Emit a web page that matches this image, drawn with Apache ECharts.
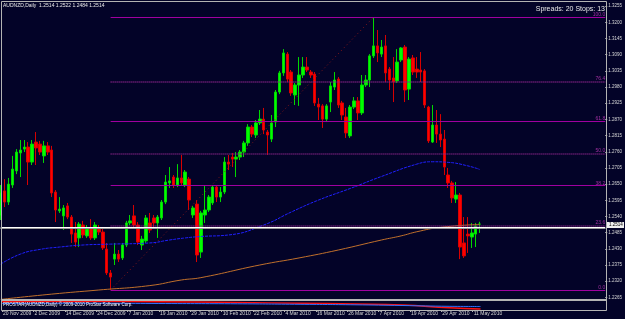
<!DOCTYPE html>
<html>
<head>
<meta charset="utf-8">
<script src="https://cdn.jsdelivr.net/npm/echarts@6/dist/echarts.min.js"></script>
<style>
html,body{margin:0;padding:0;background:#030328;}
#chart{width:625px;height:319px;}
</style>
</head>
<body>
<div id="chart"></div>
<script>
// AUDNZD daily, 20 Nov 2009 - 13 May 2010
var dateTicks = ['20 Nov 2009','2 Dec 2009','14 Dec 2009','24 Dec 2009','7 Jan 2010','19 Jan 2010',
    '29 Jan 2010','10 Feb 2010','22 Feb 2010','4 Mar 2010','16 Mar 2010','26 Mar 2010',
    '7 Apr 2010','19 Apr 2010','29 Apr 2010','11 May 2010'];
var priceTicks = [1.3255,1.3200,1.3145,1.3090,1.3035,1.2980,1.2925,1.2870,1.2815,1.2760,
    1.2705,1.2650,1.2595,1.2540,1.2485,1.2430,1.2375,1.2320,1.2265];

var open = [1.2542,1.2627,1.2589,1.2647,1.2695,1.2756,1.2769,1.2776,1.2725,1.2793,
    1.2786,1.2746,1.2780,1.2766,1.2623,1.2559,1.2542,1.2576,1.2538,1.2484,
    1.2467,1.2511,1.2474,1.2501,1.2467,1.2501,1.2487,1.2429,1.2348,1.2395,
    1.2412,1.2399,1.2443,1.2518,1.2542,1.2511,1.2443,1.2457,1.2518,1.2535,
    1.2518,1.2535,1.2589,1.2654,1.2674,1.2647,1.2671,1.2647,1.2667,1.2545,
    1.2582,1.2419,1.2545,1.2562,1.2586,1.2640,1.2606,1.2623,1.2725,1.2742,
    1.2735,1.2742,1.2759,1.2790,1.2844,1.2817,1.2858,1.2871,1.2827,1.2803,
    1.2861,1.2963,1.3028,1.3092,1.3031,1.2953,1.2987,1.3021,1.3048,1.3031,
    1.3024,1.2922,1.2916,1.2871,1.2929,1.2980,1.3007,1.2926,1.2878,1.2814,
    1.2912,1.2933,1.2892,1.2987,1.3004,1.3086,1.3120,1.3092,1.3120,1.3041,
    1.3011,1.3001,1.3072,1.3116,1.2973,1.3079,1.3041,1.3038,1.3035,1.2912,
    1.2793,1.2851,1.2820,1.2803,1.2681,1.2654,1.2599,1.2613,1.2450,1.2480,
    1.2470,1.2480,1.2514];
var close = [1.2623,1.2589,1.2650,1.2701,1.2759,1.2766,1.2776,1.2725,1.2786,1.2773,
    1.2759,1.2780,1.2759,1.2620,1.2562,1.2565,1.2569,1.2538,1.2480,1.2453,
    1.2514,1.2477,1.2497,1.2467,1.2511,1.2487,1.2433,1.2348,1.2334,1.2412,
    1.2395,1.2443,1.2518,1.2525,1.2511,1.2453,1.2463,1.2535,1.2494,1.2518,
    1.2538,1.2589,1.2657,1.2661,1.2647,1.2671,1.2654,1.2691,1.2596,1.2569,
    1.2409,1.2552,1.2562,1.2606,1.2640,1.2606,1.2623,1.2725,1.2718,1.2735,
    1.2742,1.2759,1.2790,1.2844,1.2820,1.2858,1.2871,1.2834,1.2817,1.2858,
    1.2963,1.3028,1.3096,1.3007,1.2960,1.2987,1.3021,1.3048,1.3038,1.3021,
    1.2926,1.2912,1.2871,1.2916,1.2984,1.3004,1.2919,1.2885,1.2824,1.2912,
    1.2933,1.2892,1.2987,1.3004,1.3086,1.3120,1.3096,1.3116,1.3028,1.3004,
    1.2997,1.3065,1.3113,1.2970,1.3075,1.3031,1.3031,1.3031,1.2919,1.2797,
    1.2851,1.2820,1.2800,1.2708,1.2654,1.2603,1.2613,1.2436,1.2406,1.2474,
    1.2484,1.2508,1.2514];
var low = [1.2528,1.2572,1.2579,1.2637,1.2684,1.2674,1.2759,1.2647,1.2715,1.2715,
    1.2749,1.2722,1.2749,1.2606,1.2521,1.2552,1.2494,1.2531,1.2450,1.2436,
    1.2436,1.2467,1.2467,1.2460,1.2460,1.2477,1.2426,1.2341,1.2290,1.2375,
    1.2385,1.2392,1.2436,1.2511,1.2504,1.2443,1.2426,1.2450,1.2484,1.2501,
    1.2467,1.2528,1.2582,1.2637,1.2637,1.2640,1.2647,1.2640,1.2562,1.2535,
    1.2385,1.2399,1.2518,1.2555,1.2579,1.2589,1.2589,1.2616,1.2698,1.2708,
    1.2674,1.2732,1.2742,1.2780,1.2810,1.2807,1.2851,1.2820,1.2749,1.2793,
    1.2844,1.2956,1.3018,1.2997,1.2950,1.2919,1.2916,1.3011,1.3031,1.3011,
    1.2916,1.2868,1.2841,1.2861,1.2895,1.2970,1.2909,1.2868,1.2807,1.2807,
    1.2905,1.2868,1.2885,1.2980,1.2980,1.3079,1.3065,1.3082,1.2997,1.2970,
    1.2929,1.2994,1.3065,1.2929,1.2936,1.3021,1.3011,1.2997,1.2909,1.2790,
    1.2790,1.2790,1.2776,1.2681,1.2637,1.2586,1.2586,1.2395,1.2399,1.2416,
    1.2433,1.2436,1.2484];
var high = [1.2647,1.2667,1.2671,1.2746,1.2769,1.2800,1.2800,1.2793,1.2800,1.2827,
    1.2797,1.2797,1.2793,1.2780,1.2630,1.2606,1.2579,1.2586,1.2545,1.2521,
    1.2521,1.2525,1.2511,1.2531,1.2521,1.2511,1.2501,1.2450,1.2358,1.2450,
    1.2426,1.2450,1.2525,1.2545,1.2579,1.2521,1.2474,1.2545,1.2552,1.2545,
    1.2545,1.2596,1.2681,1.2708,1.2681,1.2718,1.2749,1.2698,1.2674,1.2576,
    1.2596,1.2559,1.2644,1.2613,1.2647,1.2647,1.2640,1.2742,1.2749,1.2756,
    1.2759,1.2766,1.2797,1.2854,1.2851,1.2868,1.2902,1.2909,1.2834,1.2885,
    1.2970,1.3035,1.3109,1.3099,1.3038,1.2994,1.3082,1.3082,1.3082,1.3038,
    1.3031,1.2943,1.2922,1.2922,1.2997,1.3031,1.3014,1.2933,1.2909,1.2919,
    1.2946,1.2946,1.3021,1.3021,1.3092,1.3218,1.3174,1.3140,1.3157,1.3048,
    1.3082,1.3109,1.3116,1.3123,1.3082,1.3089,1.3082,1.3099,1.3041,1.2916,
    1.2919,1.2902,1.2888,1.2834,1.2705,1.2661,1.2657,1.2620,1.2538,1.2538,
    1.2518,1.2518,1.2522];

// moving averages, read at a few bars
var maBlueIdx = [0,5,10,15,21,28,38,43,47,51,58,67,74,81,89,97,106,110,114,119,122];
var maBlue = [1.2378,1.2412,1.2428,1.2436,1.2443,1.2446,1.2450,1.2460,1.2467,1.2472,1.2477,
    1.2511,1.2555,1.2596,1.2635,1.2676,1.2718,1.2726,1.2724,1.2712,1.2700];
var maOrangeIdx = [0,13,25,38,46,51,66,76,86,97,102,106,112,122];
var maOrange = [1.2258,1.2276,1.2290,1.2305,1.2324,1.2332,1.2375,1.2399,1.2426,1.2460,
    1.2474,1.2488,1.2503,1.2513];

// oscillator in the lower window
var oscIdx = [0,20,40,60,76,90,102,114,122];
var oscRed = [8.3,8.5,8.2,7.5,6.7,6.0,5.0,2.3,1.0];
var oscBlue = [6.5,6.8,6.5,6.2,5.7,5.2,4.5,3.7,3.5];

// fibonacci from the low (bar 28) to the high (bar 95)
var fibLevels = [0, 23.6, 38.2, 50.0, 61.8, 76.4, 100.0];
var fibLowBar = 28, fibHighBar = 95;
var fibLow = 1.2290, fibHigh = 1.3218;
var hLine = 1.2499;

var totalBars = 155;
var cats = [];
for (var i = 0; i < totalBars; i++) cats.push(String(i));

var candles = [];
for (var i = 0; i < open.length; i++) {
    candles.push([open[i], close[i], low[i], high[i]]);
}
function pairs(idx, vals) {
    var res = [];
    for (var k = 0; k < idx.length; k++) res.push([idx[k], vals[k]]);
    return res;
}

var fibLines = [];
for (var k = 0; k < fibLevels.length; k++) {
    var lv = fibLevels[k];
    var v = fibLow + (fibHigh - fibLow) * lv / 100;
    var dotted = (lv === 23.6 || lv === 50.0 || lv === 76.4);
    fibLines.push([
        {coord: [fibLowBar, v],
         lineStyle: {color: dotted ? '#8a248a' : '#a000a0', width: dotted ? 1.6 : 1.1, type: dotted ? [1, 1] : 'solid'},
         label: {show: true, formatter: lv.toFixed(1), position: 'insideEndTop', color: '#a030a0',
                 fontSize: 5, fontFamily: 'Liberation Sans', distance: 0}},
        {coord: [totalBars - 1, v]}
    ]);
}
fibLines.push([
    {coord: [fibLowBar, fibLow], lineStyle: {color: '#8a1818', width: 1, type: [1, 3]}, label: {show: false}},
    {coord: [fibHighBar, fibHigh]}
]);
fibLines.push({yAxis: hLine, lineStyle: {color: '#ffffff', width: 2, type: 'solid'}, label: {show: false}});
fibLines.push({yAxis: hLine - 0.0008, lineStyle: {color: '#9a9a9a', width: 1, type: 'solid'}, label: {show: false}});

var myChart = echarts.init(document.getElementById('chart'));
var option = {
    backgroundColor: '#030328',
    animation: false,
    grid: [
        {left: 0.7, right: 19, top: 3, bottom: 19},
        {left: 0.7, right: 19, top: 301, height: 9}
    ],
    xAxis: [
        {
            type: 'category', data: cats, boundaryGap: false, gridIndex: 0,
            axisLine: {show: false}, axisTick: {show: false}, axisLabel: {show: false}, splitLine: {show: false}
        },
        {
            type: 'category', data: cats, boundaryGap: false, gridIndex: 1,
            axisLine: {show: false},
            axisTick: {
                show: true, length: 2, lineStyle: {color: '#b4b4b4'},
                interval: function (idx) { return idx % 8 === 0 && idx / 8 < dateTicks.length; }
            },
            axisLabel: {
                show: true, color: '#d8d8d8', fontSize: 5, fontFamily: 'Liberation Sans', margin: 1,
                align: 'left', padding: [0, 0, 0, 1],
                interval: function (idx) { return idx % 8 === 0 && idx / 8 < dateTicks.length; },
                formatter: function (val, idx) { return dateTicks[idx / 8] || ''; }
            },
            splitLine: {show: false}
        }
    ],
    yAxis: [
        {
            type: 'value', gridIndex: 0, position: 'right', min: 1.2256, max: 1.32658, scale: true,
            axisLine: {show: false},
            axisTick: {show: true, length: 2, customValues: priceTicks, lineStyle: {color: '#b4b4b4'}},
            axisLabel: {
                show: true, customValues: priceTicks, color: '#d8d8d8', fontSize: 4.5,
                fontFamily: 'Liberation Sans', margin: 3,
                formatter: function (v) { return v.toFixed(4); }
            },
            splitLine: {show: false}
        },
        {
            type: 'value', gridIndex: 1, position: 'right', min: 0, max: 9,
            axisLine: {show: false}, axisTick: {show: false}, axisLabel: {show: false}, splitLine: {show: false}
        }
    ],
    series: [
        {
            name: 'AUDNZD',
            type: 'candlestick',
            xAxisIndex: 0, yAxisIndex: 0,
            barWidth: 3,
            data: candles,
            itemStyle: {
                color: '#00ff00', color0: '#ff0000',
                borderColor: '#00d800', borderColor0: '#d80000', borderWidth: 1
            },
            markLine: {silent: true, symbol: 'none', animation: false, data: fibLines}
        },
        {
            name: 'MA blue', type: 'line', xAxisIndex: 0, yAxisIndex: 0,
            data: pairs(maBlueIdx, maBlue), smooth: true, symbol: 'none',
            lineStyle: {color: '#2020ff', width: 1, type: [3, 1]}
        },
        {
            name: 'MA orange', type: 'line', xAxisIndex: 0, yAxisIndex: 0,
            data: pairs(maOrangeIdx, maOrange), smooth: true, symbol: 'none',
            lineStyle: {color: '#c0702c', width: 1}
        },
        {
            name: 'osc red', type: 'line', xAxisIndex: 1, yAxisIndex: 1,
            data: pairs(oscIdx, oscRed), smooth: true, symbol: 'none',
            lineStyle: {color: '#ff1010', width: 1.5}
        },
        {
            name: 'osc blue', type: 'line', xAxisIndex: 1, yAxisIndex: 1,
            data: pairs(oscIdx, oscBlue), smooth: true, symbol: 'none',
            lineStyle: {color: '#3070ff', width: 1}
        }
    ],
    graphic: [
        // frame
        {type: 'line', z: 100, shape: {x1: 1.5, y1: 1.5, x2: 606.5, y2: 1.5}, style: {stroke: '#b4b4b4', lineWidth: 1}},
        {type: 'line', z: 100, shape: {x1: 1.5, y1: 1.5, x2: 1.5, y2: 310.5}, style: {stroke: '#b4b4b4', lineWidth: 1}},
        {type: 'line', z: 100, shape: {x1: 606.5, y1: 1.5, x2: 606.5, y2: 310.5}, style: {stroke: '#b4b4b4', lineWidth: 1}},
        {type: 'rect', z: 100, shape: {x: 1, y: 299, width: 606, height: 2}, style: {fill: '#b4b4b4'}},
        {type: 'line', z: 100, shape: {x1: 1.5, y1: 310.5, x2: 606.5, y2: 310.5}, style: {stroke: '#b4b4b4', lineWidth: 1}},
        // texts
        {type: 'text', z: 100, left: 3, top: 3,
         style: {text: 'AUDNZD,Daily  1.2514 1.2522 1.2484 1.2514', fill: '#e8e8e8', fontSize: 5, fontFamily: 'Liberation Sans'}},
        {type: 'text', z: 100, right: 20, top: 6,
         style: {text: 'Spreads: 20 Stops: 13', fill: '#e8e8e8', fontSize: 7, fontFamily: 'Liberation Sans'}},
        {type: 'text', z: 100, left: 3, top: 302.5,
         style: {text: 'PROSTAR(AUDNZD,Daily) \u00a9 2009-2010 ProStar Software Corp.', fill: '#ffffff', fontSize: 4.5, fontFamily: 'Liberation Sans'}},
        // current price box
        {type: 'rect', z: 100, shape: {x: 607, y: 222, width: 17, height: 6}, style: {fill: '#f0f0f0'}},
        {type: 'text', z: 101, left: 609, top: 222.5,
         style: {text: '1.2514', fill: '#000000', fontSize: 4.5, fontFamily: 'Liberation Sans'}}
    ]
};
myChart.setOption(option);

window.addEventListener('resize', function () {
    myChart.resize();
});
</script>
</body>
</html>
